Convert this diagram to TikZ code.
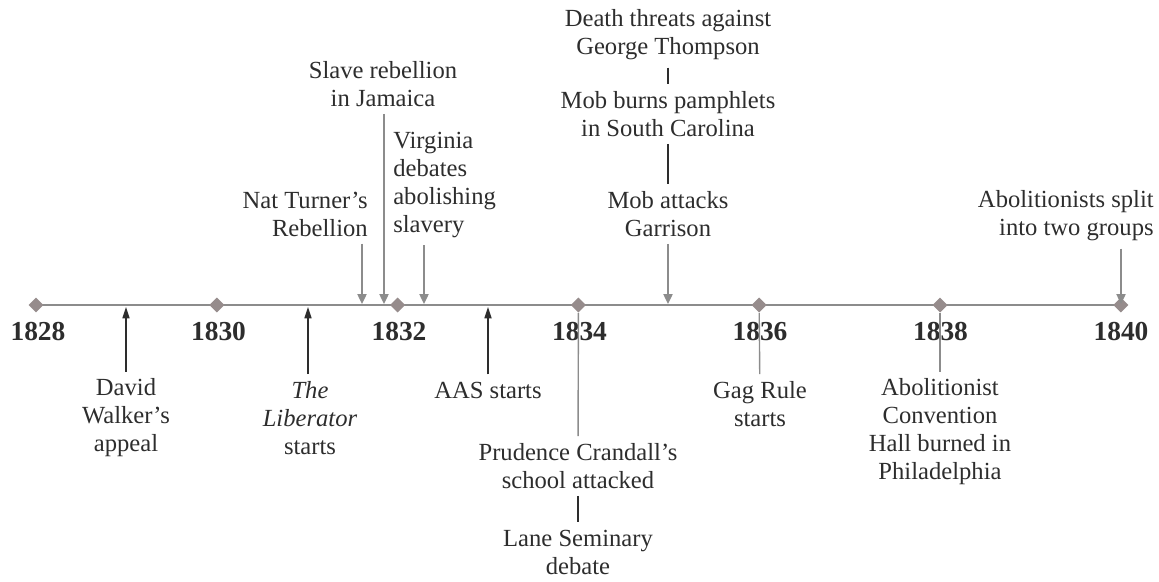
\documentclass[tikz,border=0pt]{standalone}
\usepackage{fontspec}
\setmainfont{Liberation Serif}
\usetikzlibrary{shapes.geometric,arrows.meta}
\definecolor{linegray}{RGB}{140,140,140}
\definecolor{inkgray}{RGB}{45,45,45}
\definecolor{tickgray}{RGB}{150,140,140}

\begin{document}
\begin{tikzpicture}[x=0.025cm,y=-0.025cm,
    every node/.style={text=inkgray,font=\fontsize{17.5}{19.9}\selectfont},
    event/.style={inner sep=5pt,align=center},
    year/.style={font=\fontsize{19.5}{22}\selectfont\bfseries,inner sep=0pt},
    yeartick/.style={diamond,fill=tickgray,inner sep=0pt,minimum size=0.38cm},
    downarrow/.style={linegray,line width=1pt,-{Triangle[width=6.5pt,length=7pt]}},
    uparrow/.style={inkgray,line width=1.1pt,-{Triangle[width=5pt,length=8pt]}},
    linkbar/.style={inkgray,line width=1.1pt},
    dropline/.style={linegray,line width=1pt}]
  \useasboundingbox (0,0) rectangle (1159,581);

  \coordinate (start) at (36,305);
  \coordinate (end) at (1121,305);
  \draw[linegray,line width=1.4pt] (start) -- (end);

  \foreach \yr [count=\i from 0] in {1828,1830,...,1840} {
    \node[yeartick] (d\yr) at (36+180.8*\i,305) {};
    \node[year] (y\yr) at (38+180.5*\i,332) {\yr};
  }

  \node[event] (threats) at (668,35) {Death threats against\\George Thompson};
  \node[event] (burns) at (668,114) {Mob burns pamphlets\\in South Carolina};
  \node[event] (garrison) at (668,214) {Mob attacks\\Garrison};
  \node[event] (jamaica) at (383,84) {Slave rebellion\\in Jamaica};
  \node[event,anchor=west,align=left] (virginia) at (386,185) {Virginia\\debates\\abolishing\\slavery};
  \node[event,anchor=east,align=right] (turner) at (375,214) {Nat Turner's\\Rebellion};
  \node[event,anchor=east,align=right] (split) at (1161,216) {Abolitionists split\\into two groups};
  \node[event] (walker) at (126,418) {David\\Walker's\\appeal};
  \node[event] (liberator) at (310,418) {\textit{The}\\\textit{Liberator}\\starts};
  \node[event] (aas) at (488,390) {AAS starts};
  \node[event] (crandall) at (578,466) {Prudence Crandall's\\school attacked};
  \node[event] (lane) at (578,552) {Lane Seminary\\debate};
  \node[event] (gag) at (760,404) {Gag Rule\\starts};
  \node[event] (hall) at (940,432) {Abolitionist\\Convention\\Hall burned in\\Philadelphia};

  \coordinate (pturner) at (362,304);
  \coordinate (pjamaica) at (384,304);
  \coordinate (pvirginia) at (424,304);
  \coordinate (pgarrison) at (668,304);
  \coordinate (psplit) at (1121,304);
  \coordinate (pwalker) at (126,307);
  \coordinate (pliberator) at (308,307);
  \coordinate (paas) at (488,307);

  \draw[downarrow] (turner.south east -| pturner) -- (pturner);
  \draw[downarrow] (jamaica.south -| pjamaica) -- (pjamaica);
  \draw[downarrow] (virginia.south west -| pvirginia) -- (pvirginia);
  \draw[downarrow] (garrison) -- (pgarrison);
  \draw[downarrow] (split.south east -| psplit) -- (psplit);
  \draw[uparrow] (walker) -- (pwalker);
  \draw[uparrow] (liberator.north -| pliberator) -- (pliberator);
  \draw[uparrow] (aas) -- (paas);

  \draw[linkbar] (threats) -- (burns);
  \draw[linkbar] (burns) -- (garrison);
  \draw[linkbar] (crandall) -- (lane);

  \draw[dropline] (d1834.south) -- (crandall);
  \draw[dropline] (d1836.south) -- (gag);
  \draw[dropline] (d1838.south) -- (hall);
\end{tikzpicture}
\end{document}
